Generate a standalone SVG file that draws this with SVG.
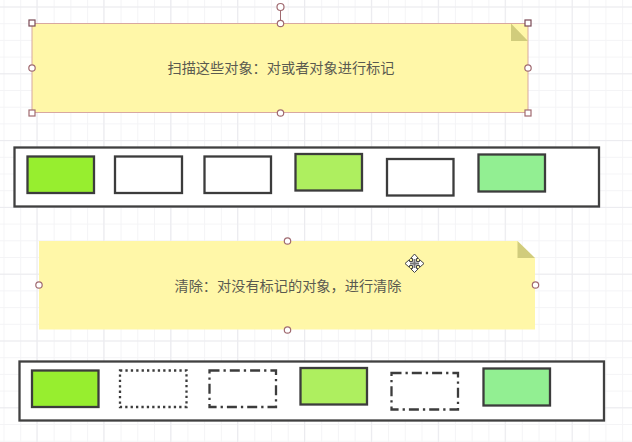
<svg xmlns="http://www.w3.org/2000/svg" width="632" height="442" viewBox="0 0 632 442">
<style>
.note{fill:#fff7a8}
.sel{stroke:#d8a8a0;stroke-width:1}
.fold{fill:#d1cc7c}
.txt{font-family:"Noto Sans CJK SC","Liberation Sans",sans-serif;font-size:14.2px;fill:#5a5a50;text-anchor:middle}
.bar{fill:#fff;stroke:#404040;stroke-width:2.3}
.box{stroke:#3c3c3c;stroke-width:2.3}
.h{fill:#fff;stroke:#a06a70;stroke-width:1.2}
.hs{fill:#fff;stroke:#7a4a55;stroke-width:1.2}
.e{fill:#fff}
</style>
<defs>
<pattern id="minor" x="3.5" y="6.5" width="16.72" height="16.7" patternUnits="userSpaceOnUse"><path d="M0.5 0V16.7M0 0.5H16.72" fill="none" stroke="#f4f4f6" stroke-width="1"/></pattern>
<pattern id="major" x="36.4" y="6.5" width="66.9" height="66.8" patternUnits="userSpaceOnUse"><path d="M0.5 0V66.8M0 0.5H66.9" fill="none" stroke="#ebebef" stroke-width="1"/></pattern>
</defs>
<rect width="632" height="442" fill="#fff"/>
<rect width="632" height="442" fill="url(#minor)"/>
<rect width="632" height="442" fill="url(#major)"/>
<g id="connectors"><path d="M280.500 10V23" stroke="#a06a70" stroke-width="1" fill="none"/></g>
<g id="note1">
<rect class="note sel" x="32" y="23.500" width="496" height="89"/>
<path class="fold" d="M511 23.500L528 41H511Z"/>
<text class="txt" x="281" y="73">扫描这些对象：对或者对象进行标记</text>
<rect class="hs" x="29" y="20" width="6" height="6"/><rect class="hs" x="525" y="20" width="6" height="6"/>
<rect class="h" x="29" y="110" width="6" height="6"/><rect class="h" x="525" y="110" width="6" height="6"/>
<circle class="h" cx="280.500" cy="7" r="3.500"/><circle class="h" cx="280.500" cy="23.500" r="3.200"/>
<circle class="h" cx="32" cy="68" r="3.200"/><circle class="h" cx="528" cy="68" r="3.200"/><circle class="h" cx="280.500" cy="113" r="3.200"/>
</g>
<g id="bar1"><rect class="bar" x="14.500" y="147.500" width="584.500" height="59"/>
<rect class="box" fill="#97ee2f" x="27.500" y="156.500" width="66.500" height="36.500"/>
<rect class="box e" x="115" y="156.500" width="67" height="36.500"/>
<rect class="box e" x="204.500" y="156.500" width="66.500" height="36.500"/>
<rect class="box" fill="#aeef5f" x="295.500" y="154" width="66.500" height="36.500"/>
<rect class="box e" x="387" y="159" width="66.500" height="36.500"/>
<rect class="box" fill="#92ef92" x="478.500" y="154.500" width="66.500" height="37"/>
</g>
<g id="note2">
<path class="note" d="M39 241H517.500L535 258.500V329.500H39Z"/>
<path class="fold" d="M517.500 241L535 258H517.500Z"/>
<text class="txt" x="288" y="291">清除：对没有标记的对象，进行清除</text>
<circle class="h" cx="287.500" cy="241" r="3.200"/><circle class="h" cx="39" cy="285" r="3.200"/><circle class="h" cx="535.500" cy="285" r="3.200"/><circle class="h" cx="287.500" cy="330" r="3.200"/>
</g>
<g id="bar2"><rect class="bar" x="19.500" y="361.500" width="584.500" height="59"/>
<rect class="box" fill="#97ee2f" x="32" y="370.500" width="66.500" height="36.500"/>
<rect class="box e" stroke-dasharray="2.300 3.100" x="120" y="370.500" width="66.500" height="36.500"/>
<rect class="box e" stroke-dasharray="10 4 2.300 4" x="209.500" y="370.500" width="66.500" height="36.500"/>
<rect class="box" fill="#aeef5f" x="300.500" y="368" width="66.500" height="36.500"/>
<rect class="box e" stroke-dasharray="10 4 2.300 4" x="391.500" y="373" width="66.500" height="36.500"/>
<rect class="box" fill="#92ef92" x="483.500" y="368.500" width="66.500" height="37"/>
</g>
<g id="cursor">
<path d="M414.500 254L418.500 258.500H416.500V261.500H419.500V259.500L424 263.500L419.500 267.500V265.500H416.500V268.500H418.500L414.500 272.500L410.500 268.500H412.500V265.500H409.500V267.500L405 263.500L409.500 259.500V261.500H412.500V258.500H410.500Z" fill="#fff" stroke="#444" stroke-width="1"/>
<path d="M414.500 259V268M410 263.500H419" stroke="#777" stroke-width="2"/>
</g>
</svg>
